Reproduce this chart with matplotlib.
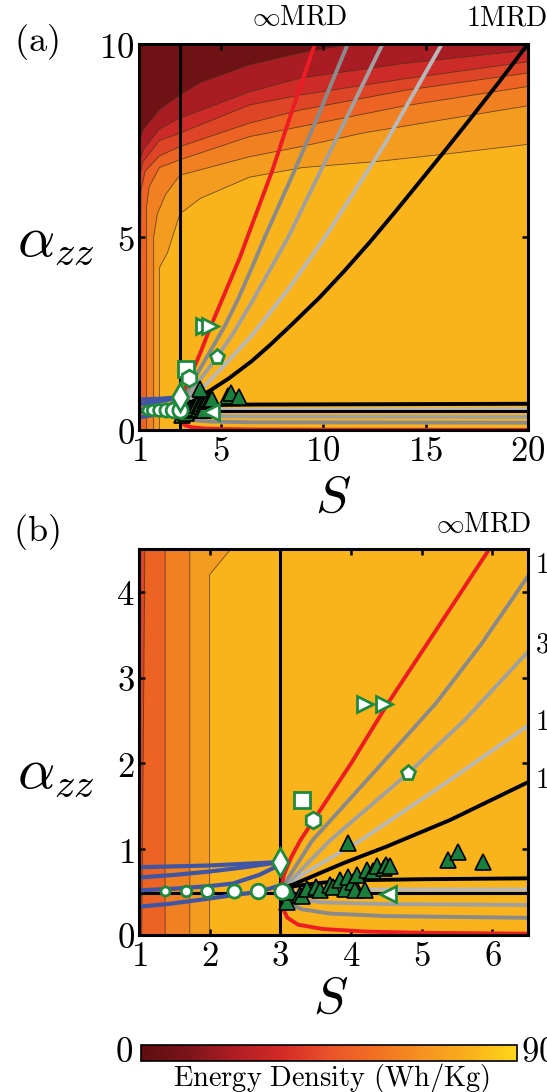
import numpy as np
import matplotlib.pyplot as plt
from matplotlib.colors import LinearSegmentedColormap, Normalize
from matplotlib.cm import ScalarMappable

plt.rcParams['mathtext.fontset'] = 'cm'
plt.rcParams['font.family'] = ['DejaVu Serif']

# ---- contour boundaries of the energy density map (S, alpha_zz), base band outward
c1_S = [2.0, 2.0, 2.4, 2.7, 3.0, 4.0, 6.4, 9.0, 12.5, 16.0, 20.0]
c1_a = [0.0, 4.2, 4.6, 5.1, 5.6, 6.0, 6.55, 6.8, 6.95, 7.15, 7.4]
c2_S = [1.72, 1.72, 1.9, 2.3, 3.0, 6.4, 8.9, 12.0, 16.0, 20.0]
c2_a = [0.0, 5.0, 5.6, 6.1, 6.6, 7.08, 7.34, 7.7, 8.05, 8.4]
c3_S = [1.37, 1.37, 1.5, 2.0, 3.0, 6.4, 8.9, 14.0, 20.0]
c3_a = [0.0, 5.8, 6.3, 6.8, 7.0, 7.6, 7.86, 8.4, 8.9]
c4_S = [1.04, 1.1, 1.3, 2.0, 3.0, 6.4, 8.9, 14.0, 20.0]
c4_a = [0.0, 6.2, 6.7, 7.1, 7.34, 7.95, 8.29, 8.8, 9.25]
c5_S = [1.0, 1.2, 2.0, 3.0, 6.4, 8.9, 14.0, 20.0]
c5_a = [6.5, 6.95, 7.5, 7.69, 8.42, 8.68, 9.1, 9.54]
c6_S = [1.0, 1.2, 2.0, 3.0, 6.4, 8.9, 14.0, 20.0]
c6_a = [6.9, 7.25, 7.8, 8.08, 8.76, 9.12, 9.5, 9.84]
c7_S = [1.0, 1.2, 2.0, 3.0, 4.0, 6.4, 8.9, 12.0]
c7_a = [7.4, 7.77, 8.3, 8.68, 9.0, 9.46, 9.77, 10.05]

# ---- MRD curves, upper branches
red_S = [3.0, 3.05, 3.15, 3.28, 3.6, 4.0, 4.52, 5.2, 5.94, 6.3, 7.5, 8.5, 9.6]
red_a = [0.5, 0.7, 0.9, 1.1, 1.5, 2.0, 2.7, 3.55, 4.48, 5.0, 6.7, 8.3, 10.0]
dg_S = [3.0, 3.1, 3.45, 4.0, 4.6, 5.2, 5.85, 6.49, 7.15, 8.5, 9.8, 11.2]
dg_a = [0.5, 0.65, 1.1, 1.6, 2.15, 2.7, 3.4, 4.17, 5.0, 6.6, 8.2, 10.0]
mg_S = [3.0, 3.2, 3.7, 4.8, 5.6, 6.5, 8.3, 10.6, 12.9]
mg_a = [0.5, 0.68, 1.1, 1.88, 2.5, 3.3, 5.0, 7.5, 10.0]
lg_S = [3.0, 3.3, 4.13, 5.3, 6.5, 8.3, 10.1, 13.0, 15.8]
lg_a = [0.5, 0.7, 1.1, 1.75, 2.44, 3.65, 5.0, 7.4, 10.0]
bk_S = [3.0, 3.1, 3.9, 4.5, 5.4, 6.5, 7.4, 8.4, 9.8, 11.0, 12.3, 13.5, 14.7, 16.0, 17.2, 18.6, 20.0]
bk_a = [0.5, 0.56, 0.84, 1.03, 1.34, 1.78, 2.2, 2.7, 3.42, 4.1, 4.88, 5.64, 6.42, 7.27, 8.07, 9.02, 10.0]

# ---- MRD curves, lower branches
red_lo_S = [3.0, 3.01, 3.04, 3.1, 3.25, 3.6, 4.2, 5.0, 6.5, 10.0, 20.0]
red_lo_a = [0.5, 0.4, 0.3, 0.2, 0.12, 0.07, 0.04, 0.025, 0.015, 0.01, 0.005]
dg_lo_S = [3.0, 3.1, 3.3, 3.7, 4.5, 6.5, 20.0]
dg_lo_a = [0.5, 0.38, 0.3, 0.25, 0.22, 0.2, 0.19]
mg_lo_S = [3.0, 3.2, 3.6, 4.5, 6.5, 20.0]
mg_lo_a = [0.5, 0.42, 0.38, 0.36, 0.35, 0.34]
lg_lo_S = [3.0, 3.5, 4.5, 6.5, 20.0]
lg_lo_a = [0.5, 0.52, 0.53, 0.53, 0.54]
bk_lo_S = [3.0, 3.2, 3.6, 4.2, 5.0, 6.5, 20.0]
bk_lo_a = [0.5, 0.57, 0.61, 0.64, 0.65, 0.66, 0.68]

hline_S = [1.0, 20.0]
hline_a = [0.49, 0.49]
vline_S = [3.0, 3.0]
vline_a = [0.0, 10.0]

# ---- blue curves (S < 3)
b1_S = [1.0, 1.5, 2.0, 2.5, 3.0]
b1_a = [0.79, 0.80, 0.81, 0.83, 0.85]
b2_S = [1.0, 1.5, 2.0, 2.5, 3.0]
b2_a = [0.67, 0.70, 0.74, 0.79, 0.85]
b3_S = [1.0, 1.5, 2.0, 2.33, 2.7, 2.95]
b3_a = [0.52, 0.54, 0.57, 0.60, 0.70, 0.80]
b4_S = [1.0, 1.4, 1.86, 2.3, 2.57, 2.85, 3.0]
b4_a = [0.33, 0.36, 0.41, 0.46, 0.49, 0.54, 0.58]

# ---- experimental points
circ_S = [1.37, 1.66, 1.96, 2.34, 2.68, 3.02]
circ_a = [0.51, 0.51, 0.51, 0.51, 0.51, 0.51]
circ_ms = [6.5, 7.5, 8.5, 9.5, 10.5, 11]
tri_S = [3.09, 3.14, 3.28, 3.30, 3.37, 3.51, 3.56, 3.70, 3.75, 3.84, 3.91, 3.96,
         4.03, 4.06, 4.08, 4.20, 4.22, 4.31, 4.36, 4.46, 4.50, 4.55, 3.96, 5.37, 5.51, 5.87]
tri_a = [0.39, 0.50, 0.47, 0.45, 0.54, 0.56, 0.52, 0.58, 0.56, 0.64, 0.54, 0.68,
         0.62, 0.52, 0.70, 0.52, 0.76, 0.74, 0.80, 0.78, 0.81, 0.80, 1.07, 0.87, 0.97, 0.85]
sq_S, sq_a = [3.30], [1.57]
hex_S, hex_a = [3.46], [1.34]
rt_S, rt_a = [4.20, 4.47], [2.69, 2.69]
pent_S, pent_a = [4.80], [1.89]
lt_S, lt_a = [4.52], [0.48]
dia_S, dia_a = [3.00], [0.85]

contours = [(c1_S, c1_a), (c2_S, c2_a), (c3_S, c3_a), (c4_S, c4_a),
            (c5_S, c5_a), (c6_S, c6_a), (c7_S, c7_a)]
base_col = '#fab41b'
band_cols = ['#f49c20', '#f08022', '#ec6323', '#de4527', '#cc2b27', '#a91c23', '#6f1216']

cmap = LinearSegmentedColormap.from_list(
    'ed', ['#5e0d10', '#7a141a', '#b01d24', '#d42a27', '#e9532a', '#f27022',
           '#f59320', '#f9b11c', '#fed61a'])

green = '#1d8a3e'


def draw(ax, xmax, ymax, xt, yt):
    ax.set_xlim(1, xmax)
    ax.set_ylim(0, ymax)
    ax.set_facecolor(base_col)
    for (s, a), col in zip(contours, band_cols):
        ps = list(s) + [40, 40, 0, 0]
        pa = list(a) + [a[-1], 40, 40, a[0]]
        ax.fill(ps, pa, color=col, lw=0, zorder=1)
        ax.plot(s, a, color='#4a3218', lw=0.6, alpha=0.8, zorder=2)

    for s, a, c in [(red_lo_S, red_lo_a, '#ed1c24'), (dg_lo_S, dg_lo_a, '#8a8a8a'),
                    (mg_lo_S, mg_lo_a, '#a0a0a0'), (lg_lo_S, lg_lo_a, '#b8b8b8'),
                    (bk_lo_S, bk_lo_a, 'black')]:
        ax.plot(s, a, color=c, lw=2.8, zorder=3)
    ax.plot(hline_S, hline_a, color='black', lw=2.2, zorder=3)
    ax.plot(vline_S, vline_a, color='black', lw=2.2, zorder=3)
    for s, a in [(b1_S, b1_a), (b2_S, b2_a), (b3_S, b3_a), (b4_S, b4_a)]:
        ax.plot(s, a, color='#3f55a5', lw=3, zorder=3)
    for s, a, c in [(lg_S, lg_a, '#b8b8b8'), (mg_S, mg_a, '#a0a0a0'),
                    (dg_S, dg_a, '#8a8a8a'), (red_S, red_a, '#ed1c24'),
                    (bk_S, bk_a, 'black')]:
        ax.plot(s, a, color=c, lw=2.8, zorder=3, solid_joinstyle='round')

    for s, a, ms in zip(circ_S, circ_a, circ_ms):
        ax.plot(s, a, 'o', ms=ms, mfc='white', mec=green, mew=2, zorder=5)
    ax.plot(tri_S, tri_a, '^', ms=11, mfc='#1a7f3c', mec='black', mew=1.2, ls='none', zorder=4)
    ax.plot(sq_S, sq_a, 's', ms=11, mfc='white', mec=green, mew=2, ls='none', zorder=5)
    ax.plot(hex_S, hex_a, 'h', ms=12, mfc='white', mec=green, mew=2, ls='none', zorder=5)
    ax.plot(rt_S, rt_a, '>', ms=11, mfc='white', mec=green, mew=2, ls='none', zorder=5)
    ax.plot(pent_S, pent_a, 'p', ms=11, mfc='white', mec=green, mew=2, ls='none', zorder=5)
    ax.plot(lt_S, lt_a, '<', ms=11, mfc='white', mec=green, mew=2, ls='none', zorder=5)
    ax.plot(dia_S, dia_a, 'd', ms=14, mfc='white', mec=green, mew=2, ls='none', zorder=5)

    ax.set_xticks(xt)
    ax.set_xticklabels(['$%g$' % t for t in xt])
    ax.set_yticks(yt)
    ax.set_yticklabels(['$%g$' % t for t in yt])
    ax.tick_params(direction='in', top=True, right=True, length=4, width=1.8,
                   labelsize=25, pad=3)
    for sp in ax.spines.values():
        sp.set_linewidth(2.2)
        sp.set_zorder(10)


fig = plt.figure(figsize=(5.47, 10.92), dpi=100)
axa = fig.add_axes([0.254, 0.6062, 0.711, 0.3535])
axb = fig.add_axes([0.254, 0.1438, 0.711, 0.3535])
draw(axa, 20, 10, [1, 5, 10, 15, 20], [0, 5, 10])
draw(axb, 6.5, 4.5, [1, 2, 3, 4, 5, 6], [0, 1, 2, 3, 4])


def ftext(x, y, s, size, **kw):
    fig.text(x / 547, 1 - y / 1092, s, fontsize=size, ha=kw.pop('ha', 'center'),
             va=kw.pop('va', 'center'), **kw)


ftext(36, 42, r'$\mathrm{(a)}$', 26)
ftext(36, 532, r'$\mathrm{(b)}$', 26)
ftext(56, 240, r'$\alpha_{zz}$', 42)
ftext(56, 772, r'$\alpha_{zz}$', 42)
ftext(333, 497, r'$S$', 38)
ftext(331, 999, r'$S$', 37)
ftext(300, 18, r'$\infty\mathrm{MRD}$', 20)
ftext(507, 18, r'$1\mathrm{MRD}$', 20)
ftext(484, 524, r'$\infty\mathrm{MRD}$', 20)
ftext(535, 565, r'$10\mathrm{MRD}$', 20, ha='left')
ftext(535, 645, r'$3\mathrm{MRD}$', 20, ha='left')
ftext(535, 722, r'$1.5\mathrm{MRD}$', 20, ha='left')
ftext(535, 780, r'$1\mathrm{MRD}$', 20, ha='left')

cax = fig.add_axes([0.2578, 0.0284, 0.6874, 0.0147])
cb = fig.colorbar(ScalarMappable(norm=Normalize(0, 90), cmap=cmap), cax=cax,
                  orientation='horizontal')
cb.set_ticks([])
cb.outline.set_linewidth(1.2)
ftext(133, 1052, r'$0$', 25, ha='right')
ftext(521, 1052, r'$90$', 25, ha='left')
ftext(332, 1078, r'$\mathrm{Energy\ Density\ (Wh/Kg)}$', 20.5)

fig.savefig('out.png', dpi=100)
